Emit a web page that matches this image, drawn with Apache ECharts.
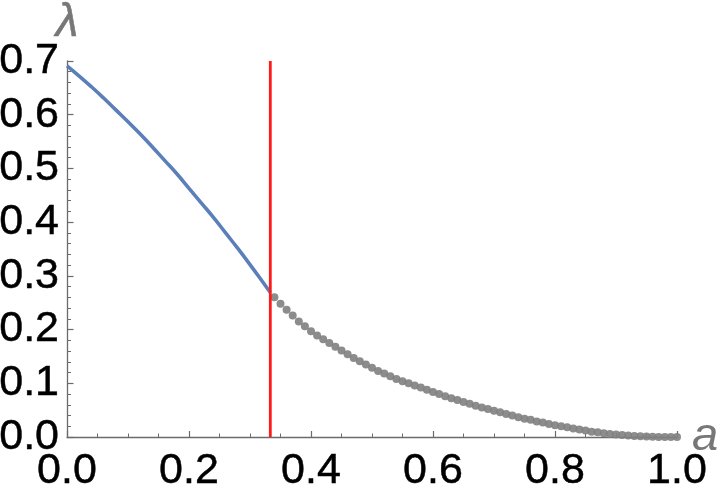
<!DOCTYPE html>
<html>
<head>
<meta charset="utf-8">
<script src="https://cdn.jsdelivr.net/npm/echarts@6/dist/echarts.min.js"></script>
<style>
  html, body { margin: 0; padding: 0; background: #fff; }
  #chart { width: 720px; height: 496px; }
</style>
</head>
<body>
<div id="chart"></div>
<script>
// blue curve, a in [0, 1/3]
const curveA = [0, 0.02, 0.04, 0.06, 0.08, 0.10, 0.12, 0.14, 0.16, 0.18, 0.20, 0.22, 0.24, 0.26, 0.28, 0.30, 0.32, 0.3333];
const curveL = [0.691, 0.672, 0.652, 0.631, 0.609, 0.587, 0.564, 0.540, 0.515, 0.490, 0.463, 0.436, 0.409, 0.380, 0.351, 0.321, 0.290, 0.269];

// gray dots, a = 0.34 .. 1.00 step 0.01
const dotA = [0.34, 0.35, 0.36, 0.37, 0.38, 0.39, 0.40, 0.41, 0.42, 0.43, 0.44, 0.45, 0.46, 0.47, 0.48, 0.49,
  0.50, 0.51, 0.52, 0.53, 0.54, 0.55, 0.56, 0.57, 0.58, 0.59, 0.60, 0.61, 0.62, 0.63, 0.64, 0.65, 0.66,
  0.67, 0.68, 0.69, 0.70, 0.71, 0.72, 0.73, 0.74, 0.75, 0.76, 0.77, 0.78, 0.79, 0.80, 0.81, 0.82, 0.83,
  0.84, 0.85, 0.86, 0.87, 0.88, 0.89, 0.90, 0.91, 0.92, 0.93, 0.94, 0.95, 0.96, 0.97, 0.98, 0.99, 1.00];
const dotL = [0.260, 0.248, 0.237, 0.226, 0.215, 0.206, 0.197, 0.189, 0.182, 0.175, 0.168, 0.161, 0.154, 0.147, 0.141, 0.135,
  0.129, 0.123, 0.118, 0.113, 0.108, 0.104, 0.100, 0.096, 0.092, 0.088, 0.084, 0.080, 0.076, 0.072, 0.069, 0.065, 0.062,
  0.058, 0.055, 0.052, 0.049, 0.046, 0.043, 0.040, 0.037, 0.034, 0.032, 0.029, 0.027, 0.024, 0.022, 0.020, 0.018, 0.016,
  0.014, 0.012, 0.010, 0.0088, 0.0072, 0.0058, 0.0046, 0.0036, 0.0026, 0.0018, 0.0012, 0.0007, 0.0004, 0.0002, 0.0001, 0, 0];

// red vertical marker
const cutA = 0.3333;
const cutL = [0, 0.7];

const xTicks = [0, 0.2, 0.4, 0.6, 0.8, 1.0];
const yTicks = [0, 0.1, 0.2, 0.3, 0.4, 0.5, 0.6, 0.7];

const chart = echarts.init(document.getElementById('chart'), null, { renderer: 'canvas' });

const axisColor = '#6b6b6b';
const labelFont = 'Liberation Sans, Arial, sans-serif';

chart.setOption({
  animation: false,
  grid: { left: 67, right: 43, top: 61, bottom: 59, containLabel: false, outerBoundsMode: 'none' },
  xAxis: {
    type: 'value',
    min: 0, max: 1, interval: 0.2,
    name: 'a',
    nameLocation: 'end',
    nameGap: 15,
    nameMoveOverlap: false,
    nameTextStyle: { color: '#777', fontSize: 47, fontStyle: 'italic', fontFamily: labelFont, verticalAlign: 'middle', padding: [14, 0, 0, 0] },
    axisLine: { show: true, onZero: false, lineStyle: { color: axisColor, width: 1.3 } },
    axisTick: { show: true, inside: true, length: 6, lineStyle: { color: axisColor, width: 1.2 } },
    minorTick: { show: true, splitNumber: 4, length: 3.5, lineStyle: { color: axisColor, width: 1 } },
    splitLine: { show: false },
    axisLabel: {
      color: '#000', fontSize: 43, fontFamily: labelFont, margin: 13,
      textBorderColor: '#000', textBorderWidth: 0.5,
      showMinLabel: true, showMaxLabel: true, hideOverlap: false,
      formatter: v => xTicks.indexOf(+v.toFixed(1)) >= 0 ? v.toFixed(1) : ''
    }
  },
  yAxis: {
    type: 'value',
    min: 0, max: 0.7, interval: 0.1,
    name: 'λ',
    nameLocation: 'end',
    nameGap: 15,
    nameMoveOverlap: false,
    nameTextStyle: { color: '#777', fontSize: 46, fontStyle: 'italic', fontFamily: labelFont, align: 'center',
      textBorderColor: '#777', textBorderWidth: 0.5 },
    axisLine: { show: true, onZero: false, lineStyle: { color: axisColor, width: 1.3 } },
    axisTick: { show: true, inside: true, length: 6.5, lineStyle: { color: axisColor, width: 1.2 } },
    minorTick: { show: true, splitNumber: 5, length: 4, lineStyle: { color: axisColor, width: 1 } },
    splitLine: { show: false },
    axisLabel: {
      color: '#000', fontSize: 43, fontFamily: labelFont, margin: 8,
      textBorderColor: '#000', textBorderWidth: 0.5,
      showMinLabel: true, showMaxLabel: true, hideOverlap: false,
      formatter: v => yTicks.indexOf(+v.toFixed(1)) >= 0 ? v.toFixed(1) : ''
    }
  },
  series: [
    {
      type: 'line',
      data: curveA.map((a, i) => [a, curveL[i]]),
      smooth: 0.5,
      symbol: 'none',
      lineStyle: { color: '#5b7fb8', width: 3.6 },
      z: 3
    },
    {
      type: 'line',
      data: cutL.map(l => [cutA, l]),
      symbol: 'none',
      lineStyle: { color: '#ff1a1a', width: 2.8 },
      z: 4
    },
    {
      type: 'scatter',
      data: dotA.map((a, i) => [a, dotL[i]]),
      symbol: 'circle',
      symbolSize: 8,
      itemStyle: { color: '#808080', opacity: 0.9 },
      z: 2
    }
  ]
});
</script>
</body>
</html>
